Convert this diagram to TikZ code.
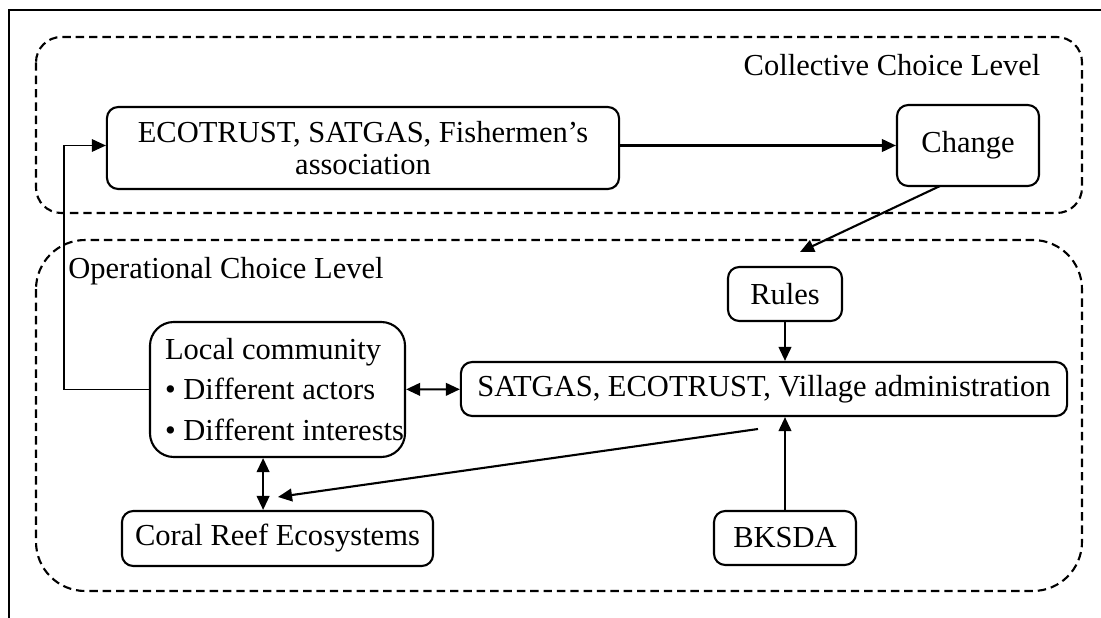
\documentclass[tikz,border=0pt]{standalone}
\usepackage{fontspec}
\setmainfont{Liberation Serif}
\usetikzlibrary{arrows.meta}

\begin{document}
\begin{tikzpicture}[x=0.025cm,y=-0.025cm,
  font=\fontsize{21.7}{23}\selectfont,
  box/.style={draw,line width=1.5pt,rounded corners=8pt,inner sep=0pt,align=center},
  level/.style={line width=1.5pt,dash pattern=on 6pt off 3.5pt},
  arr/.style={line width=1.5pt,-{Triangle[length=10pt,width=9pt]}},
  biarr/.style={line width=1.5pt,{Triangle[length=10pt,width=9pt]}-{Triangle[length=10pt,width=9pt]}},
  thinarr/.style={line width=0.9pt,-{Triangle[length=10pt,width=9pt]}}]

  \useasboundingbox (0,0) rectangle (1101,618);
  \draw[line width=0.9pt] (9,618) -- (9,10) -- (1101,10);

  % the two levels
  \draw[level,rounded corners=18pt] (36,37) rectangle (1082,213);
  \draw[level,rounded corners=35pt] (36,240) rectangle (1082,591);
  \node (collective) at (892,65) {Collective Choice Level};
  \node (operational) at (226,271) {Operational Choice Level};

  % actors
  \node[box,minimum width=12.8cm,minimum height=2.05cm] (eco) at (363,148) {ECOTRUST, SATGAS, Fishermen’s\\association};
  \node[box,minimum width=3.55cm,minimum height=2.025cm] (change) at (968,145.5) {Change};
  \node[box,minimum width=2.85cm,minimum height=1.35cm] (rules) at (785,294) {Rules};
  \node[box,minimum width=15.15cm,minimum height=1.35cm] (satgas) at (764,389) {SATGAS, ECOTRUST, Village administration};
  \node[box,rounded corners=17pt,align=left,minimum width=6.375cm,minimum height=3.375cm] (local) at (277.5,389.5)
    {\hspace*{10pt}Local community\\[6pt]\hspace*{10pt}\textbullet{} Different actors\\[6pt]\hspace*{10pt}\textbullet{} Different interests};
  \node[box,minimum width=7.775cm,minimum height=1.375cm] (coral) at (277.5,538.5) {Coral Reef Ecosystems};
  \node[box,minimum width=3.55cm,minimum height=1.35cm] (bksda) at (785,538) {BKSDA};

  % loose ends
  \coordinate (changeout) at (940,186);
  \coordinate (rulesin) at (800,252);
  \coordinate (satgasout) at (758,429);
  \coordinate (coralin) at (278,497);

  \draw[arr] (eco.east |- change) -- (change);
  \draw[arr] (changeout) -- (rulesin);
  \draw[arr] (rules) -- (rules |- satgas.north);
  \draw[arr] (bksda) -- (bksda |- satgas.south);
  \draw[biarr] (local) -- (satgas);
  \draw[biarr] ([xshift=-0.36cm]local.south) -- ([xshift=-0.36cm]coral.north);
  \draw[arr] (satgasout) -- (coralin);
  \draw[thinarr] (local.west) -- ++(-85,0) |- (eco.west |- change);

\end{tikzpicture}
\end{document}
